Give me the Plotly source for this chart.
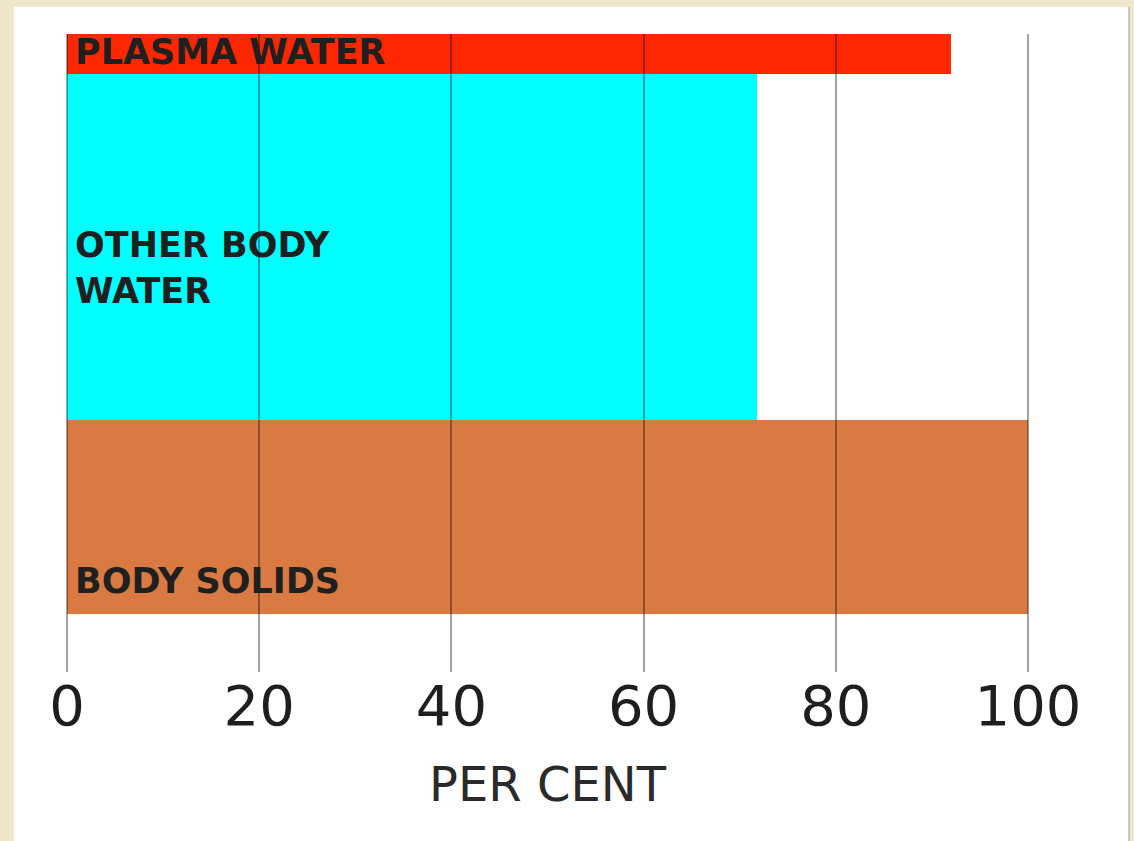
import plotly.graph_objects as go

# ---- data ----
categories = ["BODY SOLIDS", "OTHER BODY WATER", "PLASMA WATER"]
percent_values = [100, 71.8, 92]
tick_values = [0, 20, 40, 60, 80, 100]
tick_labels = ["0", "20", "40", "60", "80", "100"]
axis_title = "PER CENT"

# ---- geometry (band placement on a vertical scale, 0 = axis line) ----
band_base = [58, 252, 598]
band_height = [194, 346, 40]
band_centers = [b + h / 2 for b, h in zip(band_base, band_height)]
y_range = [0, 638]
x_pad = 0.52
x_range = [0 - x_pad, 100 + x_pad]

# ---- styles ----
bar_colors = ["#d87a41", "#00ffff", "#ff2700"]
parchment = "#efe7c9"
label_font = dict(family="DejaVu Sans", size=35, color="#1f1f1f", weight="bold")

fig = go.Figure()
fig.add_trace(go.Bar(
    orientation="h",
    x=percent_values,
    y=band_centers,
    width=band_height,
    base=0,
    marker=dict(color=bar_colors, line=dict(width=0)),
    hoverinfo="skip",
    showlegend=False,
))

# white panel behind the chart
fig.add_shape(type="rect", xref="paper", yref="paper",
              x0=-0.0494, x1=1.0989, y0=-0.3, y1=1.0423,
              fillcolor="white", line=dict(width=0), layer="below")
fig.add_shape(type="line", xref="paper", yref="paper",
              x0=1.0989, x1=1.0989, y0=-0.3, y1=1.0423,
              line=dict(color="#b8b8b8", width=1.5), layer="below")

# in-bar labels
fig.add_annotation(x=0, y=620, xref="x", yref="y", text="PLASMA WATER",
                   xanchor="left", yanchor="middle", xshift=6,
                   showarrow=False, font=label_font)
fig.add_annotation(x=0, y=404, xref="x", yref="y", text="OTHER BODY<br>WATER",
                   xanchor="left", yanchor="middle", xshift=6, align="left",
                   showarrow=False, font=label_font)
fig.add_annotation(x=0, y=91, xref="x", yref="y", text="BODY SOLIDS",
                   xanchor="left", yanchor="middle", xshift=6,
                   showarrow=False, font=label_font)

fig.update_layout(
    width=1134, height=841,
    margin=dict(l=62, r=101, t=34, b=169),
    paper_bgcolor=parchment,
    plot_bgcolor="rgba(0,0,0,0)",
    bargap=0,
    xaxis=dict(
        range=x_range,
        tickmode="array", tickvals=tick_values, ticktext=tick_labels,
        ticks="inside", ticklen=638, tickwidth=2,
        tickcolor="rgba(0,0,0,0.36)",
        layer="above traces",
        showgrid=False, zeroline=False, showline=False,
        tickfont=dict(family="DejaVu Sans", size=56, color="#1e1e1e"),
        ticklabelstandoff=-4,
        title=dict(text=axis_title, standoff=30,
                   font=dict(family="DejaVu Sans", size=48, color="#2a2a2a")),
        fixedrange=True,
    ),
    yaxis=dict(
        range=y_range, visible=False, showgrid=False, zeroline=False,
        fixedrange=True,
    ),
)

fig.write_html(
    "out.html",
    config={"displayModeBar": False},
    post_script="document.body.style.margin='0';document.body.style.background='%s';" % parchment,
)
